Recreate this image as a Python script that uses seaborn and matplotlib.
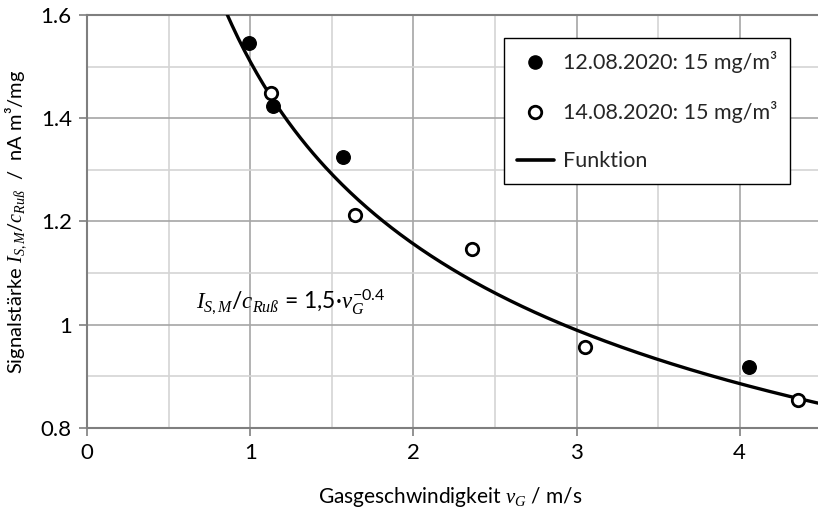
import numpy as np
import pandas as pd
import matplotlib
matplotlib.use("Agg")
import matplotlib.pyplot as plt
from matplotlib.ticker import MultipleLocator, FuncFormatter
from matplotlib.lines import Line2D
import seaborn as sns

# ---- data ----
x_1208 = [0.99, 1.14, 1.57, 4.06]
y_1208 = [1.546, 1.424, 1.325, 0.917]
x_1408 = [1.13, 1.64, 2.36, 3.05, 4.36]
y_1408 = [1.448, 1.212, 1.146, 0.956, 0.854]
fit_a = 1.51
fit_b = -0.385
label_1208 = "12.08.2020: 15 mg/m³"
label_1408 = "14.08.2020: 15 mg/m³"
label_fit = "Funktion"
x_ticks = [0, 1, 2, 3, 4]
y_ticks = [0.8, 1.0, 1.2, 1.4, 1.6]

sns.set_theme(style="white")
plt.rcParams["font.family"] = ["Lato", "DejaVu Sans"]
plt.rcParams["mathtext.fontset"] = "custom"
plt.rcParams["mathtext.it"] = "Liberation Serif:italic"
plt.rcParams["mathtext.rm"] = "Lato"

fig = plt.figure(figsize=(8.18, 5.08), dpi=100)
ax = fig.add_axes([87 / 818, 1 - 427.7 / 508, (818 - 87) / 818, (427.7 - 15) / 508])

xs = np.linspace(0.8, 4.6, 300)
df_fit = pd.DataFrame({"x": xs, "y": fit_a * xs ** fit_b})
sns.lineplot(data=df_fit, x="x", y="y", ax=ax, color="black", lw=2.4, zorder=3)

df1 = pd.DataFrame({"x": x_1208, "y": y_1208})
df2 = pd.DataFrame({"x": x_1408, "y": y_1408})
sns.scatterplot(data=df1, x="x", y="y", ax=ax, color="black", s=95,
                edgecolor="black", linewidth=1.0, zorder=4)
sns.scatterplot(data=df2, x="x", y="y", ax=ax, facecolor="white", s=80,
                edgecolor="black", linewidth=2.0, zorder=4)

ax.set_xlim(0, 4.48)
ax.set_ylim(0.8, 1.6)
ax.set_xticks(x_ticks)
ax.set_yticks(y_ticks)
ax.xaxis.set_minor_locator(MultipleLocator(0.5))
ax.yaxis.set_minor_locator(MultipleLocator(0.1))
ax.yaxis.set_major_formatter(FuncFormatter(lambda v, p: f"{v:g}"))
ax.grid(which="major", color="#a6a6a6", lw=1.2)
ax.grid(which="minor", color="#d4d4d4", lw=1.2)
ax.set_axisbelow(True)

for s in ["left", "bottom", "top"]:
    ax.spines[s].set_color("#7f7f7f")
    ax.spines[s].set_linewidth(1.5)
ax.spines["right"].set_visible(False)
ax.tick_params(axis="both", which="major", direction="out", length=6,
               width=1.2, color="#7f7f7f", labelsize=16, labelcolor="black")
ax.tick_params(axis="x", which="major", pad=5, bottom=True)
ax.tick_params(axis="y", which="major", pad=5, left=True)
ax.tick_params(which="minor", length=0)

ax.set_xlabel(r"Gasgeschwindigkeit $v_G$ / m/s", fontsize=15, color="black")
ax.set_ylabel(r"Signalstärke $I_{S,M}/c_{Ruß}$  /  nA m³/mg", fontsize=14.5, color="black")
ax.xaxis.set_label_coords((450 - 87) / (818 - 87), -0.14)
ax.yaxis.set_label_coords(-0.08, 0.5)

ax.text(0.67, 1.045, r"$I_{S,M}/c_{Ruß}$" + " = 1,5·" + r"$v_G^{\mathrm{-0.4}}$",
        fontsize=16.5, va="center", ha="left", color="black")

handles = [
    Line2D([], [], marker="o", ls="none", color="black", markersize=9.5),
    Line2D([], [], marker="o", ls="none", markerfacecolor="white",
           markeredgecolor="black", markeredgewidth=2, markersize=9),
    Line2D([], [], color="black", lw=2.6),
]
leg = ax.legend(handles, [label_1208, label_1408, label_fit],
                loc="upper left", bbox_to_anchor=((504 - 87) / 731, 1 - (38.3 - 15) / 412.7),
                fontsize=15.5, frameon=True, fancybox=False, framealpha=1,
                edgecolor="black", borderpad=0.6, labelspacing=1.3,
                handlelength=1.7, handletextpad=0.45, borderaxespad=0)
leg.get_frame().set_linewidth(1.0)

fig.savefig("out.png", dpi=100)
